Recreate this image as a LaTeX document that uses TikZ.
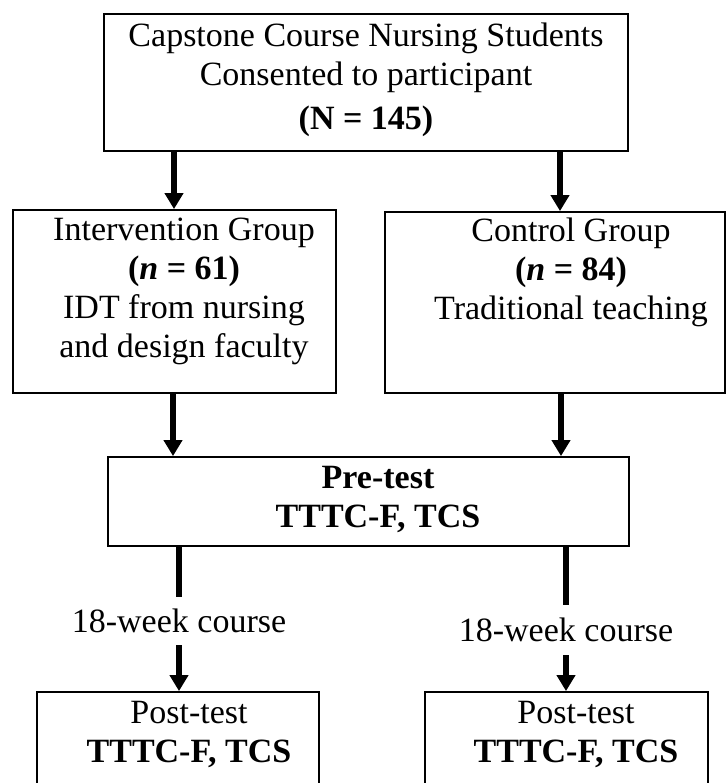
\documentclass[tikz,border=0pt]{standalone}
\usepackage{fontspec}
\setmainfont{Liberation Serif}
\usetikzlibrary{arrows.meta}
\begin{document}
\begin{tikzpicture}[x=1pt,y=-1pt,
  box/.style={draw, line width=1.8pt, rectangle, inner sep=0pt},
  txt/.style={align=center, font=\fontsize{34}{39}\selectfont, inner sep=0pt},
  arr/.style={line width=5.5pt, -{Triangle[width=18pt,length=16pt]}},
  ln/.style={line width=5.5pt}]
\useasboundingbox (0,0) rectangle (726,783);
\clip (0,0) rectangle (726,783);
\fill[white] (0,0) rectangle (726,783);
% boxes
\node[box, minimum width=524pt, minimum height=137pt] (top) at (366,82.5) {};
\node[box, minimum width=323pt, minimum height=183pt] (left) at (174.5,301.5) {};
\node[box, minimum width=340pt, minimum height=181pt] (right) at (555,302.5) {};
\node[box, minimum width=521pt, minimum height=89pt] (pre) at (368.5,501.5) {};
\node[box, minimum width=282pt, minimum height=120pt] (post1) at (178,752) {};
\node[box, minimum width=283pt, minimum height=120pt] (post2) at (566.5,752) {};
% texts
\node[txt] (topT) at (366,80) {Capstone Course Nursing Students\\Consented to participant\\[5pt]\textbf{(N = 145)}};
\node[txt] (leftT) at (184,291) {Intervention Group\\\textbf{(\textit{n} = 61)}\\IDT from nursing\\and design faculty};
\node[txt] (rightT) at (571,272) {Control Group\\\textbf{(\textit{n} = 84)}\\Traditional teaching};
\node[txt] (preT) at (378,499) {\textbf{Pre-test}\\\textbf{TTTC-F, TCS}};
\node[txt] (post1T) at (189,734) {Post-test\\\textbf{TTTC-F, TCS}};
\node[txt] (post2T) at (576,734) {Post-test\\\textbf{TTTC-F, TCS}};
\node[txt, minimum height=48pt] (lab1) at (179,621) {18-week course};
\node[txt, minimum height=50pt] (lab2) at (566,630) {18-week course};
% arrow columns
\coordinate (cA) at (174,0);
\coordinate (cB) at (560,0);
\coordinate (cC) at (173,0);
\coordinate (cD) at (561,0);
% connectors
\draw[arr] (top.south -| cA) -- (left.north -| cA);
\draw[arr] (top.south -| cB) -- (right.north -| cB);
\draw[arr] (left.south -| cC) -- (pre.north -| cC);
\draw[arr] (right.south -| cD) -- (pre.north -| cD);
\draw[ln] (pre.south -| lab1) -- (lab1.north);
\draw[arr] (lab1.south) -- (post1.north -| lab1);
\draw[ln] (pre.south -| lab2) -- (lab2.north);
\draw[arr] (lab2.south) -- (post2.north -| lab2);
\end{tikzpicture}
\end{document}
